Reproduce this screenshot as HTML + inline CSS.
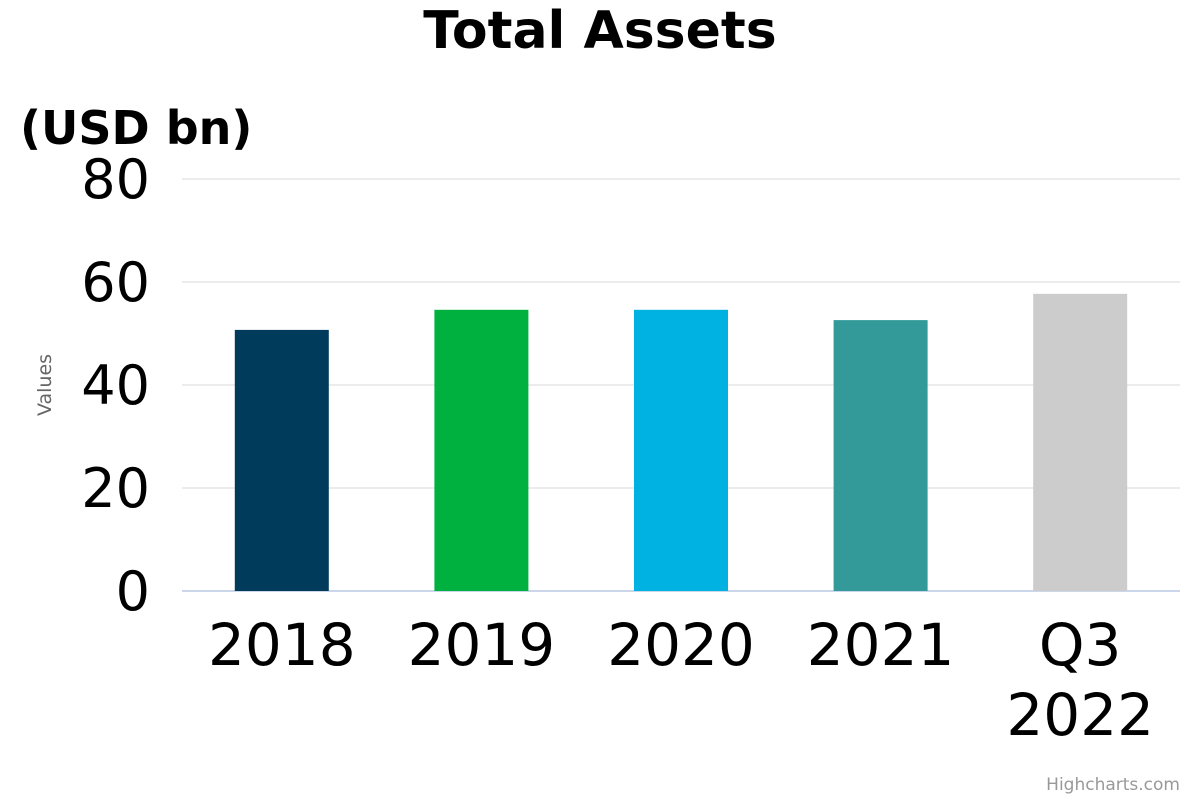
<!DOCTYPE html>
<html><head><meta charset="utf-8"><style>
html,body{margin:0;padding:0;background:#fff;}
svg{display:block;font-family:"DejaVu Sans","Liberation Sans",sans-serif;}
</style></head><body>
<svg id="chart" width="1200" height="800" viewBox="0 0 1200 800">
<text x="600" y="48" text-anchor="middle" font-size="52" font-weight="bold" fill="#000">Total Assets</text>
<text x="20" y="144" font-size="46" font-weight="bold" fill="#000">(USD bn)</text>
<text transform="translate(51,385) rotate(-90)" text-anchor="middle" font-size="19" fill="#666">Values</text>
<g id="grid"></g><g id="bars"></g><g id="xlabels"></g>
<text x="1180" y="790" text-anchor="end" font-size="17" fill="#999">Highcharts.com</text>
</svg>
<script>
const categories=[["2018"],["2019"],["2020"],["2021"],["Q3","2022"]];
const values=[50.7,54.6,54.6,52.6,57.7];
const colors=["#003b5c","#00b140","#00b2e2","#339999","#cccccc"];
const yTicks=[0,20,40,60,80];
const ns="http://www.w3.org/2000/svg";
const L=182,R=1180,T=179,B=591,yMax=80;
const y=v=>B-(v/yMax)*(B-T);
const bw=(R-L)/categories.length;
const x=i=>L+bw*(i+0.5);
function mk(tag,attrs,parent){const e=document.createElementNS(ns,tag);for(const k in attrs)e.setAttribute(k,attrs[k]);parent.appendChild(e);return e;}
const grid=document.getElementById('grid');
yTicks.forEach(t=>{
  const ln=mk('line',{x1:L,x2:R,y1:y(t),y2:y(t),stroke:t===0?'#ccd6eb':'#e6e6e6','stroke-width':t===0?2:1.5},grid);
  
  
  const tx=mk('text',{x:150,y:y(t)+19,'text-anchor':'end','font-size':54,fill:'#000'},grid);
  tx.textContent=t;
  
  
});
const bars=document.getElementById('bars'),xl=document.getElementById('xlabels');
values.forEach((v,i)=>{
  const w=94;
  const r=mk('rect',{x:x(i)-w/2,y:y(v),width:w,height:B-y(v),fill:colors[i]},bars);
  
  
  const t=mk('text',{x:x(i),'text-anchor':'middle','font-size':58,fill:'#000'},xl);
  
  
  categories[i].forEach((s,j)=>{const sp=mk('tspan',{x:x(i),y:665+j*70},t);sp.textContent=s;});
});
</script>
</body></html>
